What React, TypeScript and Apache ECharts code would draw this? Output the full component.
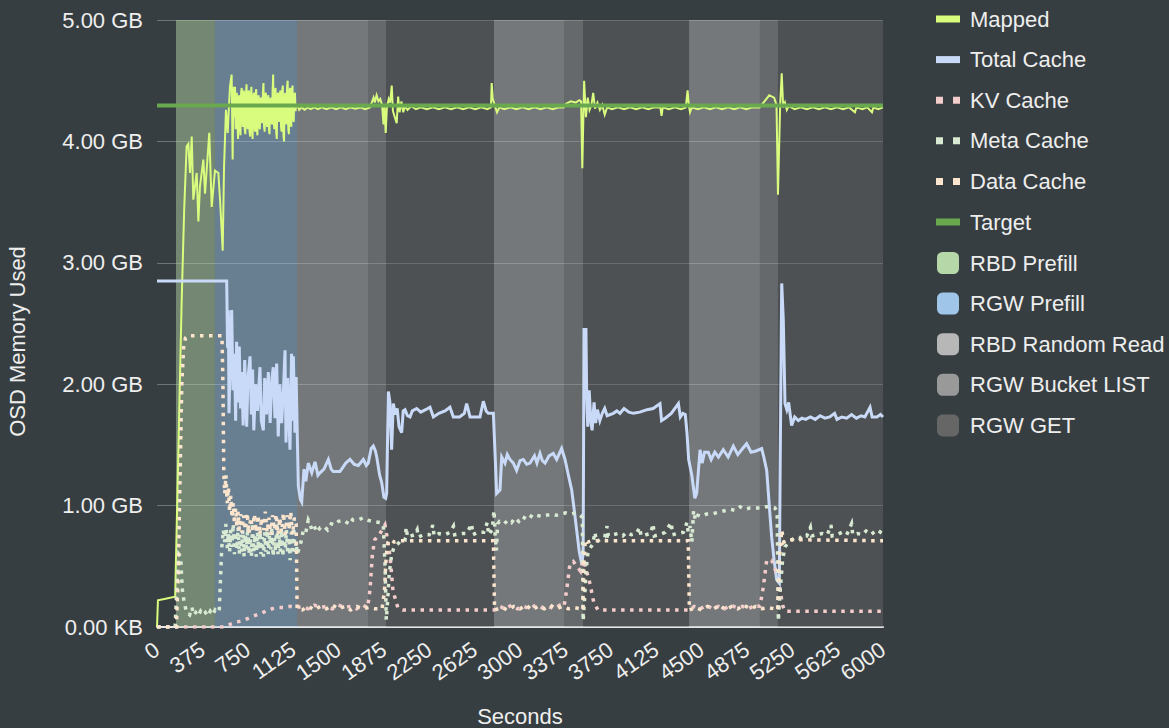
import React, { useEffect, useRef } from "react";
import * as echarts from "echarts";

// ---- data (time in seconds, value in GB) ----
const xTicks = { min: 0, max: 6000, interval: 375 };
const yTicks = { min: 0, max: 5, interval: 1 };

const mapped: [number, number][] = [
  [0, 0], [8, 0.22], [60, 0.23], [150, 0.25], [204, 2.69], [225, 3.45], [245, 3.96], [259, 3.98],
  [273, 3.74], [287, 4.04], [300, 3.52], [328, 3.74], [342, 3.34], [355, 3.63], [383, 3.85],
  [397, 3.57], [432, 4.07], [452, 3.46], [479, 3.76], [507, 3.74], [521, 3.52], [543, 3.1],
  [554, 3.79], [570, 4.26], [584, 4.07], [603, 4.45], [617, 4.55],
  [625, 3.85], [630, 4.3], [635, 4.45], [640, 4.2], [645, 4.45], [650, 4.1], [655, 4.38], [660, 4.4],
  [665, 4.15], [670, 4.02], [675, 4.35], [680, 4.38], [685, 4.12], [690, 4.05], [695, 4.4], [700, 4.44],
  [705, 4.2], [710, 4.12], [715, 4.42], [720, 4.4], [725, 4.1], [730, 4.06], [735, 4.38], [740, 4.47],
  [745, 4.15], [750, 4.1], [755, 4.4], [760, 4.42], [765, 4.08], [770, 4.04], [775, 4.36], [780, 4.45],
  [785, 4.12], [790, 4.02], [795, 4.35], [800, 4.4], [805, 4.15], [810, 4.08], [815, 4.4], [820, 4.43],
  [825, 4.1], [830, 4.05], [835, 4.36], [840, 4.38], [845, 4.14], [850, 4.1], [855, 4.35], [860, 4.36],
  [865, 4.18], [870, 4.15], [875, 4.4], [880, 4.48], [885, 4.12], [890, 4.08], [895, 4.38], [900, 4.4],
  [905, 4.16], [910, 4.12], [915, 4.35], [920, 4.38], [925, 4.1], [930, 4.06], [935, 4.34], [940, 4.36],
  [945, 4.18], [950, 4.14], [955, 4.4], [960, 4.55], [965, 4.15], [970, 4.1], [975, 4.4], [980, 4.44],
  [985, 4.08], [990, 4.02], [995, 4.38], [1000, 4.4], [1005, 4.2], [1010, 4.16], [1015, 4.38],
  [1020, 4.42], [1025, 4.12], [1030, 4.08], [1035, 4.42], [1040, 4.46], [1045, 4.05], [1050, 4.0],
  [1055, 4.36], [1060, 4.4], [1065, 4.18], [1070, 4.14], [1075, 4.45], [1080, 4.5], [1085, 4.1],
  [1090, 4.06], [1095, 4.4], [1100, 4.44], [1105, 4.15], [1110, 4.12], [1115, 4.42], [1120, 4.46],
  [1125, 4.2], [1130, 4.16], [1135, 4.38], [1140, 4.4], [1145, 4.25], [1150, 4.3],
  [1160, 4.3], [1175, 4.26], [1195, 4.28], [1220, 4.26], [1245, 4.28], [1270, 4.265], [1300, 4.28],
  [1330, 4.265], [1360, 4.28], [1400, 4.265], [1440, 4.28], [1480, 4.265], [1520, 4.28],
  [1560, 4.265], [1600, 4.28], [1640, 4.27], [1680, 4.28], [1720, 4.265], [1760, 4.28],
  [1790, 4.36], [1800, 4.32], [1815, 4.38], [1830, 4.33], [1845, 4.35], [1860, 4.3], [1872, 4.14],
  [1880, 4.3], [1890, 4.07], [1900, 4.28], [1915, 4.35], [1927, 4.32], [1940, 4.46], [1950, 4.25],
  [1965, 4.2], [1981, 4.15], [1993, 4.37], [2005, 4.24], [2020, 4.33], [2035, 4.24], [2050, 4.29],
  [2070, 4.26], [2100, 4.29], [2140, 4.265], [2180, 4.28], [2230, 4.265], [2280, 4.28],
  [2330, 4.265], [2380, 4.28], [2430, 4.265], [2480, 4.28], [2530, 4.265], [2580, 4.28],
  [2630, 4.265], [2680, 4.28], [2730, 4.265], [2760, 4.28], [2766, 4.48], [2775, 4.35],
  [2790, 4.3], [2810, 4.24], [2830, 4.28], [2870, 4.265], [2920, 4.28], [2970, 4.265],
  [3020, 4.28], [3070, 4.265], [3120, 4.28], [3170, 4.265], [3220, 4.28], [3270, 4.265],
  [3320, 4.28], [3360, 4.28], [3380, 4.31], [3420, 4.33], [3460, 4.32], [3490, 4.34],
  [3505, 4.33], [3515, 3.78], [3530, 4.5], [3545, 4.2], [3560, 4.36], [3575, 4.26], [3590, 4.3],
  [3605, 4.4], [3620, 4.27], [3640, 4.32], [3660, 4.26], [3680, 4.3], [3700, 4.22], [3720, 4.28],
  [3760, 4.265], [3810, 4.28], [3860, 4.265], [3910, 4.28], [3960, 4.265], [4010, 4.28],
  [4060, 4.265], [4110, 4.28], [4160, 4.28], [4170, 4.21], [4180, 4.28], [4230, 4.265],
  [4280, 4.28], [4330, 4.265], [4370, 4.28], [4385, 4.42], [4395, 4.3], [4405, 4.24], [4420, 4.28],
  [4470, 4.265], [4520, 4.28], [4570, 4.265], [4620, 4.28], [4670, 4.265], [4720, 4.28],
  [4770, 4.265], [4820, 4.28], [4870, 4.265], [4920, 4.28], [4980, 4.28], [5020, 4.33],
  [5060, 4.38], [5100, 4.36], [5120, 4.3], [5132, 3.56], [5150, 4.3], [5163, 4.56], [5175, 4.28],
  [5190, 4.32], [5205, 4.26], [5220, 4.29], [5270, 4.265], [5320, 4.28], [5370, 4.265],
  [5420, 4.28], [5470, 4.265], [5520, 4.28], [5570, 4.265], [5620, 4.28], [5670, 4.265],
  [5720, 4.28], [5768, 4.24], [5780, 4.28], [5830, 4.265], [5870, 4.28], [5909, 4.24],
  [5920, 4.28], [5960, 4.265], [6000, 4.28],
];

const totalCache: [number, number][] = [
  [0, 2.85], [576, 2.85], [583, 2.3], [590, 2.61], [595, 1.76], [605, 2.2], [617, 2.61], [628, 1.95],
  [640, 2.25], [650, 1.7], [658, 2.35], [668, 1.85], [680, 2.31], [690, 1.8], [700, 2.1], [712, 1.66],
  [725, 2.2], [741, 1.65], [752, 2.05], [769, 2.23], [780, 1.75], [790, 2.12], [800, 1.62],
  [815, 2.0], [830, 1.78], [851, 2.14], [862, 1.7], [879, 1.62], [890, 2.05], [905, 1.75],
  [920, 2.1], [935, 1.68], [950, 2.05], [961, 2.14], [975, 1.72], [989, 2.17], [1002, 1.57],
  [1015, 2.0], [1030, 1.68], [1045, 1.95], [1058, 2.28], [1066, 1.52], [1080, 2.05], [1099, 1.46],
  [1112, 2.25], [1120, 1.7], [1127, 2.23], [1140, 1.6], [1150, 2.06], [1157, 1.7], [1168, 1.16],
  [1185, 1.05], [1196, 1.03], [1215, 1.3], [1230, 1.2], [1250, 1.35], [1279, 1.27], [1306, 1.36],
  [1330, 1.25], [1347, 1.27], [1380, 1.3], [1416, 1.38], [1440, 1.3], [1457, 1.28], [1512, 1.28],
  [1560, 1.35], [1595, 1.38], [1630, 1.34], [1664, 1.33], [1705, 1.38], [1730, 1.33], [1746, 1.35],
  [1770, 1.47], [1788, 1.49], [1805, 1.45], [1816, 1.4], [1840, 1.25], [1857, 1.19], [1875, 1.07],
  [1890, 1.06], [1898, 1.1], [1912, 1.94], [1925, 1.85], [1939, 1.46], [1953, 1.84], [1970, 1.75],
  [1985, 1.8], [2000, 1.65], [2022, 1.6], [2035, 1.78], [2050, 1.79], [2070, 1.74], [2091, 1.73],
  [2110, 1.78], [2146, 1.8], [2180, 1.77], [2220, 1.79], [2256, 1.81], [2284, 1.73], [2330, 1.76],
  [2380, 1.78], [2421, 1.81], [2449, 1.73], [2500, 1.73], [2540, 1.76], [2559, 1.84], [2587, 1.73],
  [2640, 1.73], [2669, 1.73], [2697, 1.86], [2720, 1.78], [2738, 1.76], [2780, 1.76], [2795, 1.4],
  [2807, 1.1], [2835, 1.13], [2849, 1.4], [2876, 1.35], [2895, 1.42], [2917, 1.38], [2945, 1.35],
  [2972, 1.29], [3000, 1.37], [3027, 1.38], [3055, 1.34], [3083, 1.35], [3120, 1.41], [3140, 1.35],
  [3165, 1.43], [3185, 1.37], [3207, 1.35], [3240, 1.41], [3275, 1.43], [3303, 1.38], [3344, 1.47],
  [3372, 1.38], [3400, 1.25], [3427, 1.13], [3450, 0.95], [3468, 0.8], [3490, 0.62], [3510, 0.52],
  [3522, 0.6], [3529, 2.45], [3545, 2.45], [3551, 1.9], [3560, 1.65], [3572, 1.95], [3585, 1.7],
  [3596, 1.62], [3612, 1.85], [3625, 1.68], [3640, 1.79], [3660, 1.7], [3680, 1.76], [3700, 1.8],
  [3720, 1.74], [3771, 1.76], [3800, 1.78], [3826, 1.76], [3860, 1.8], [3900, 1.77], [3937, 1.76],
  [3990, 1.77], [4050, 1.79], [4100, 1.8], [4157, 1.84], [4170, 1.7], [4200, 1.72], [4250, 1.76],
  [4309, 1.84], [4325, 1.73], [4345, 1.76], [4366, 1.75], [4380, 1.6], [4394, 1.38], [4420, 1.25],
  [4445, 1.06], [4460, 1.1], [4488, 1.46], [4505, 1.35], [4525, 1.44], [4556, 1.44], [4580, 1.38],
  [4610, 1.44], [4640, 1.4], [4680, 1.46], [4720, 1.4], [4763, 1.49], [4800, 1.42], [4840, 1.47],
  [4873, 1.51], [4910, 1.44], [4950, 1.45], [4997, 1.47], [5015, 1.4], [5039, 1.29], [5060, 1.0],
  [5080, 0.74], [5100, 0.55], [5121, 0.39], [5143, 0.36], [5150, 1.3], [5163, 2.83], [5176, 2.53],
  [5190, 1.84], [5205, 1.79], [5220, 1.85], [5245, 1.66], [5270, 1.73], [5300, 1.7], [5330, 1.72],
  [5360, 1.71], [5400, 1.73], [5440, 1.71], [5480, 1.74], [5520, 1.72], [5560, 1.73], [5600, 1.76],
  [5620, 1.71], [5660, 1.73], [5700, 1.72], [5740, 1.75], [5780, 1.72], [5820, 1.74], [5850, 1.73],
  [5893, 1.81], [5910, 1.73], [5950, 1.73], [5980, 1.75], [6000, 1.73],
];

const kvCache: [number, number][] = [
  [0, 0], [480, 0], [550, 0.0], [600, 0.02], [650, 0.04], [700, 0.05], [750, 0.07], [800, 0.09],
  [850, 0.11], [900, 0.13], [950, 0.15], [1000, 0.16], [1050, 0.16], [1100, 0.17], [1150, 0.16],
  [1200, 0.17], [1250, 0.15], [1300, 0.18], [1350, 0.16], [1400, 0.17], [1450, 0.15], [1500, 0.18],
  [1550, 0.16], [1600, 0.17], [1650, 0.15], [1700, 0.18], [1740, 0.16], [1760, 0.3], [1780, 0.6],
  [1800, 0.72], [1830, 0.75], [1860, 0.8], [1884, 0.84], [1900, 0.75], [1926, 0.58], [1950, 0.3],
  [1990, 0.16], [2030, 0.14], [2785, 0.14], [2830, 0.17], [2880, 0.15], [2930, 0.18], [2980, 0.15],
  [3030, 0.17], [3080, 0.15], [3130, 0.18], [3180, 0.16], [3230, 0.17], [3280, 0.15], [3330, 0.18],
  [3364, 0.17], [3385, 0.3], [3413, 0.52], [3440, 0.54], [3470, 0.5], [3500, 0.46], [3520, 0.55],
  [3540, 0.5], [3580, 0.35], [3610, 0.2], [3645, 0.14], [4397, 0.14], [4440, 0.17], [4490, 0.15],
  [4540, 0.18], [4590, 0.15], [4640, 0.17], [4690, 0.15], [4740, 0.18], [4790, 0.16], [4840, 0.17],
  [4890, 0.15], [4940, 0.18], [4983, 0.17], [5011, 0.33], [5039, 0.55], [5080, 0.55], [5110, 0.47],
  [5130, 0.5], [5150, 0.3], [5170, 0.18], [5190, 0.13], [6000, 0.13],
];

const metaCache: [number, number][] = [
  [0, 0], [150, 0], [165, 0.35], [180, 0.6], [195, 0.58], [210, 0.3], [225, 0.2], [245, 0.12],
  [270, 0.1], [290, 0.16], [300, 0.1], [320, 0.12], [340, 0.09], [360, 0.13], [380, 0.1],
  [400, 0.12], [420, 0.09], [440, 0.13], [460, 0.1], [480, 0.14], [500, 0.12], [515, 0.15],
  [525, 0.4], [535, 0.65], [548, 0.8], [560, 0.7], [570, 0.85], [580, 0.65], [590, 0.78],
  [600, 0.62], [610, 0.8], [620, 0.66], [630, 0.85], [640, 0.6], [650, 0.78], [660, 0.64],
  [670, 0.82], [680, 0.6], [690, 0.76], [700, 0.62], [710, 0.8], [720, 0.58], [730, 0.76],
  [740, 0.64], [750, 0.82], [760, 0.6], [770, 0.74], [780, 0.58], [790, 0.86], [800, 0.62],
  [810, 0.76], [820, 0.58], [830, 0.78], [840, 0.64], [850, 0.82], [860, 0.6], [870, 0.74],
  [880, 0.58], [890, 0.78], [900, 0.62], [910, 0.8], [920, 0.6], [930, 0.76], [940, 0.64],
  [950, 0.82], [960, 0.58], [970, 0.74], [980, 0.62], [990, 0.86], [1000, 0.6], [1010, 0.76],
  [1020, 0.62], [1030, 0.8], [1040, 0.58], [1050, 0.76], [1060, 0.64], [1070, 0.8], [1080, 0.6],
  [1090, 0.74], [1100, 0.55], [1110, 0.78], [1120, 0.6], [1130, 0.82], [1140, 0.62], [1150, 0.7],
  [1160, 0.6], [1175, 0.65], [1190, 0.7], [1210, 0.8], [1230, 0.78], [1250, 0.88], [1264, 0.85],
  [1280, 0.8], [1300, 0.83], [1320, 0.78], [1350, 0.82], [1380, 0.83], [1410, 0.8], [1440, 0.85],
  [1470, 0.84], [1500, 0.87], [1540, 0.88], [1570, 0.86], [1595, 0.9], [1620, 0.88], [1660, 0.88],
  [1705, 0.9], [1740, 0.88], [1780, 0.87], [1843, 0.86], [1870, 0.84], [1885, 0.5], [1895, 0.06],
  [1905, 0.2], [1920, 0.45], [1940, 0.6], [1960, 0.66], [1995, 0.69], [2030, 0.73], [2050, 0.72],
  [2060, 0.82], [2070, 0.74], [2100, 0.75], [2130, 0.76], [2150, 0.8], [2160, 0.74], [2200, 0.76],
  [2250, 0.76], [2280, 0.84], [2290, 0.75], [2330, 0.77], [2380, 0.76], [2420, 0.78], [2450, 0.83],
  [2460, 0.76], [2520, 0.77], [2560, 0.77], [2600, 0.85], [2610, 0.76], [2650, 0.78], [2700, 0.78],
  [2730, 0.86], [2740, 0.76], [2770, 0.8], [2785, 0.96], [2795, 0.75], [2805, 0.63], [2815, 0.85],
  [2830, 0.87], [2870, 0.85], [2900, 0.88], [2930, 0.86], [2960, 0.9], [2990, 0.87], [3020, 0.91],
  [3050, 0.89], [3080, 0.92], [3110, 0.9], [3140, 0.92], [3180, 0.91], [3220, 0.92], [3260, 0.93],
  [3300, 0.92], [3340, 0.93], [3380, 0.94], [3420, 0.93], [3460, 0.94], [3500, 0.92], [3515, 0.9],
  [3522, 0.05], [3535, 0.25], [3545, 0.45], [3560, 0.6], [3580, 0.65], [3600, 0.68], [3620, 0.78],
  [3630, 0.7], [3660, 0.72], [3700, 0.74], [3720, 0.83], [3730, 0.75], [3770, 0.76], [3810, 0.77],
  [3850, 0.75], [3880, 0.78], [3920, 0.76], [3960, 0.77], [3990, 0.82], [4000, 0.75], [4040, 0.76],
  [4080, 0.77], [4100, 0.85], [4110, 0.75], [4150, 0.76], [4200, 0.78], [4250, 0.86], [4260, 0.76],
  [4300, 0.77], [4350, 0.78], [4380, 0.86], [4390, 0.78], [4405, 0.83], [4420, 0.7], [4435, 0.96],
  [4450, 0.88], [4470, 0.92], [4500, 0.91], [4540, 0.93], [4580, 0.93], [4620, 0.94], [4660, 0.95],
  [4700, 0.96], [4740, 0.97], [4780, 0.96], [4820, 0.99], [4860, 0.97], [4900, 0.98], [4940, 0.98],
  [4983, 0.98], [5030, 0.99], [5070, 0.99], [5107, 0.98], [5125, 0.95], [5135, 0.05], [5150, 0.3],
  [5170, 0.55], [5190, 0.66], [5220, 0.7], [5250, 0.72], [5280, 0.74], [5310, 0.73], [5340, 0.76],
  [5370, 0.75], [5400, 0.82], [5410, 0.75], [5450, 0.76], [5500, 0.77], [5540, 0.76], [5570, 0.84],
  [5580, 0.75], [5620, 0.76], [5660, 0.78], [5700, 0.76], [5740, 0.85], [5750, 0.76], [5790, 0.77],
  [5830, 0.76], [5860, 0.79], [5900, 0.76], [5950, 0.8], [5980, 0.78], [6000, 0.77],
];

const dataCache: [number, number][] = [
  [0, 0], [160, 0], [175, 0.4], [190, 1.2], [205, 2.0], [220, 2.3], [235, 2.38], [260, 2.4],
  [537, 2.4], [545, 2.0], [552, 1.27], [560, 1.1], [570, 1.25], [580, 1.02], [590, 1.15],
  [600, 0.95], [610, 1.08], [620, 0.9], [630, 1.02], [640, 0.85], [650, 0.98], [660, 0.82],
  [670, 0.95], [680, 0.8], [690, 0.93], [700, 0.78], [715, 0.92], [730, 0.8], [745, 0.94],
  [760, 0.77], [775, 0.9], [790, 0.8], [805, 0.93], [820, 0.78], [835, 0.92], [850, 0.76],
  [865, 0.9], [880, 0.8], [895, 0.95], [910, 0.78], [925, 0.9], [940, 0.76], [955, 0.92],
  [970, 0.8], [985, 0.93], [1000, 0.76], [1015, 0.9], [1030, 0.78], [1045, 0.94], [1060, 0.76],
  [1075, 0.92], [1090, 0.8], [1105, 0.95], [1120, 0.76], [1135, 0.9], [1150, 0.85], [1158, 0.15],
  [1200, 0.14], [1250, 0.17], [1300, 0.14], [1350, 0.17], [1400, 0.15], [1450, 0.18], [1500, 0.15],
  [1550, 0.17], [1600, 0.14], [1650, 0.17], [1700, 0.15], [1750, 0.16], [1800, 0.15], [1860, 0.15],
  [1880, 0.3], [1895, 0.6], [1910, 0.7], [1930, 0.72], [1960, 0.7], [2000, 0.71], [2780, 0.71],
  [2790, 0.14], [2850, 0.16], [2900, 0.14], [2950, 0.17], [3000, 0.15], [3050, 0.18], [3100, 0.14],
  [3150, 0.17], [3200, 0.15], [3250, 0.18], [3300, 0.15], [3350, 0.17], [3400, 0.15], [3450, 0.16],
  [3500, 0.15], [3520, 0.14], [3530, 0.55], [3540, 0.72], [3560, 0.7], [3600, 0.71], [4390, 0.71],
  [4400, 0.14], [4450, 0.16], [4500, 0.14], [4550, 0.17], [4600, 0.15], [4650, 0.18], [4700, 0.14],
  [4750, 0.17], [4800, 0.15], [4850, 0.18], [4900, 0.15], [4950, 0.17], [5000, 0.15], [5050, 0.16],
  [5100, 0.15], [5130, 0.14], [5140, 0.5], [5163, 0.8], [5180, 0.7], [5200, 0.72], [6000, 0.71],
];

const targetValue = 4.295;

const rbdPrefill: [number, number][] = [[157, 479]];
const rgwPrefill: [number, number][] = [[479, 1157]];
const rbdRandomRead: [number, number][] = [[1157, 1744], [2785, 3364], [4397, 4983]];
const rgwBucketList: [number, number][] = [[1744, 1893], [3364, 3521], [4983, 5132]];
const rgwGet: [number, number][] = [[1893, 2785], [3521, 4397], [5132, 6000]];

const lineNames = ["Mapped", "Total Cache", "KV Cache", "Meta Cache", "Data Cache", "Target"];
const areaNames = ["RBD Prefill", "RGW Prefill", "RBD Random Read", "RGW Bucket LIST", "RGW GET"];

const FONT = "Liberation Sans, Arial, sans-serif";
const TEXT = "#eeeeee";
const FS = 22;

export default function App() {
  const ref = useRef<HTMLDivElement>(null);
  useEffect(() => {
    if (!ref.current) return;
    const chart = echarts.init(ref.current, null, { renderer: "svg" });

    const areaSeries = (name: string, color: string, ranges: [number, number][]) => ({
      name,
      type: "line",
      data: [],
      color,
      itemStyle: { color },
      z: 1,
      markArea: {
        silent: true,
        itemStyle: { color, opacity: 0.48 },
        data: ranges.map(([a, b]) => [{ xAxis: a }, { xAxis: b }]),
      },
    });

    const lineSeries = (name: string, data: [number, number][], color: string, width: number, dotted: boolean, z: number) => ({
      name,
      type: "line",
      data,
      color,
      showSymbol: false,
      symbol: "none",
      z,
      lineStyle: { color, width, type: dotted ? [3.5, 5.5] : "solid", cap: "butt", join: "miter" },
    });

    const solidIcon = "path://M0,0h24v7h-24z";
    const dotIcon = "path://M0,0h7v7h-7zM17,0h7v7h-7z";

    chart.setOption({
      animation: false,
      backgroundColor: "#373e41",
      textStyle: { fontFamily: FONT },
      grid: { left: 157, top: 20, right: 286, bottom: 101, containLabel: false, outerBoundsMode: "none" },
      legend: [
        {
          orient: "vertical",
          left: 931,
          top: 3,
          itemWidth: 24,
          itemHeight: 7,
          itemGap: 18.6,
          selectedMode: false,
          textStyle: { color: TEXT, fontSize: FS, fontFamily: FONT, lineHeight: 22, padding: [0, 0, 0, 5] },
          data: lineNames.map((n) => ({
            name: n,
            icon: n === "KV Cache" || n === "Meta Cache" || n === "Data Cache" ? dotIcon : solidIcon,
          })),
        },
        {
          orient: "vertical",
          left: 932,
          top: 247,
          itemWidth: 22,
          itemHeight: 22,
          itemGap: 18.6,
          selectedMode: false,
          icon: "roundRect",
          textStyle: { color: TEXT, fontSize: FS, fontFamily: FONT, lineHeight: 22, padding: [0, 0, 0, 6] },
          data: areaNames,
        },
      ],
      xAxis: {
        type: "value",
        min: xTicks.min,
        max: xTicks.max,
        interval: xTicks.interval,
        name: "Seconds",
        nameLocation: "middle",
        nameGap: 78,
        nameTextStyle: { color: TEXT, fontSize: FS, fontFamily: FONT },
        axisLine: { show: true, lineStyle: { color: "#e6e6e6", width: 2 } },
        axisTick: { show: false },
        splitLine: { show: false },
        axisLabel: {
          color: TEXT, fontSize: FS, fontFamily: FONT, rotate: 35, margin: 20,
          formatter: (v: number) => String(v),
        },
      },
      yAxis: {
        type: "value",
        min: yTicks.min,
        max: yTicks.max,
        interval: yTicks.interval,
        name: "OSD Memory Used",
        nameLocation: "middle",
        nameGap: 129,
        nameTextStyle: { color: TEXT, fontSize: FS, fontFamily: FONT, padding: [0, 36, 0, 0] },
        axisLine: { show: false },
        axisTick: { show: false },
        splitLine: { show: true, lineStyle: { color: "rgba(255,255,255,0.28)", width: 1 } },
        axisLabel: {
          color: TEXT,
          fontSize: FS,
          fontFamily: FONT,
          margin: 14,
          formatter: (v: number) => (v === 0 ? "0.00 KB" : v.toFixed(2) + " GB"),
        },
      },
      series: [
        areaSeries("RBD Prefill", "#b6d7a8", rbdPrefill),
        areaSeries("RGW Prefill", "#9fc5e8", rgwPrefill),
        areaSeries("RBD Random Read", "#b7b7b7", rbdRandomRead),
        areaSeries("RGW Bucket LIST", "#999999", rgwBucketList),
        areaSeries("RGW GET", "#666666", rgwGet),
        lineSeries("Mapped", mapped, "#d9fc7e", 2, false, 3),
        lineSeries("Total Cache", totalCache, "#c9daf8", 3, false, 4),
        lineSeries("KV Cache", kvCache, "#f4cccc", 3.5, true, 5),
        lineSeries("Meta Cache", metaCache, "#d9ead3", 3.5, true, 5),
        lineSeries("Data Cache", dataCache, "#fce5cd", 3.5, true, 5),
        lineSeries("Target", [[xTicks.min, targetValue], [xTicks.max, targetValue]], "#6aa84f", 4, false, 6),
      ],
    });
    return () => chart.dispose();
  }, []);
  return <div ref={ref} style={{ position: "fixed", left: 0, top: 0, width: 1169, height: 728 }} />;
}
